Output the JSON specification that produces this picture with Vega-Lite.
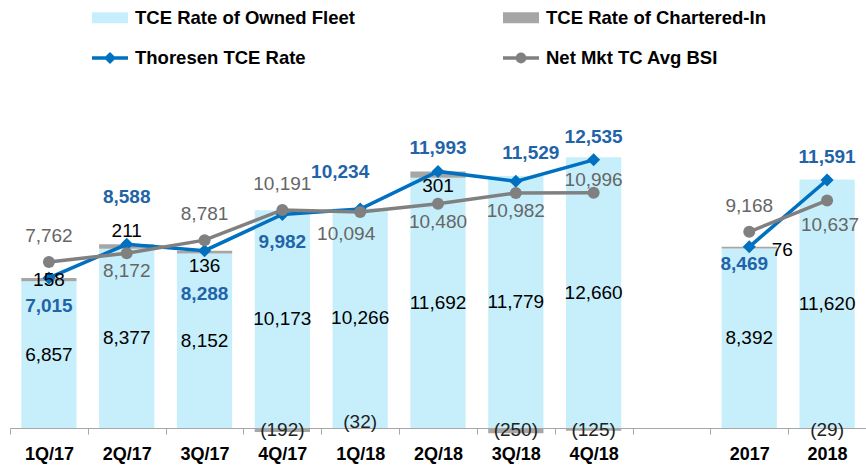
{
  "$schema": "https://vega.github.io/schema/vega-lite/v6.json",
  "width": 856,
  "height": 353,
  "autosize": {"type": "none"},
  "padding": {"left": 10, "top": 75, "right": 0, "bottom": 37},
  "background": "white",
  "config": {"view": {"stroke": null}, "font": "Liberation Sans"},
  "data": {
    "values": [
      {"q": "1Q/17", "grp": "quarterly", "TCE Rate of Owned Fleet": 6857, "TCE Rate of Chartered-In": 158, "Thoresen TCE Rate": 7015, "Net Mkt TC Avg BSI": 7762},
      {"q": "2Q/17", "grp": "quarterly", "TCE Rate of Owned Fleet": 8377, "TCE Rate of Chartered-In": 211, "Thoresen TCE Rate": 8588, "Net Mkt TC Avg BSI": 8172},
      {"q": "3Q/17", "grp": "quarterly", "TCE Rate of Owned Fleet": 8152, "TCE Rate of Chartered-In": 136, "Thoresen TCE Rate": 8288, "Net Mkt TC Avg BSI": 8781},
      {"q": "4Q/17", "grp": "quarterly", "TCE Rate of Owned Fleet": 10173, "TCE Rate of Chartered-In": -192, "Thoresen TCE Rate": 9982, "Net Mkt TC Avg BSI": 10191},
      {"q": "1Q/18", "grp": "quarterly", "TCE Rate of Owned Fleet": 10266, "TCE Rate of Chartered-In": -32, "Thoresen TCE Rate": 10234, "Net Mkt TC Avg BSI": 10094},
      {"q": "2Q/18", "grp": "quarterly", "TCE Rate of Owned Fleet": 11692, "TCE Rate of Chartered-In": 301, "Thoresen TCE Rate": 11993, "Net Mkt TC Avg BSI": 10480},
      {"q": "3Q/18", "grp": "quarterly", "TCE Rate of Owned Fleet": 11779, "TCE Rate of Chartered-In": -250, "Thoresen TCE Rate": 11529, "Net Mkt TC Avg BSI": 10982},
      {"q": "4Q/18", "grp": "quarterly", "TCE Rate of Owned Fleet": 12660, "TCE Rate of Chartered-In": -125, "Thoresen TCE Rate": 12535, "Net Mkt TC Avg BSI": 10996},
      {"q": "2017", "grp": "annual", "TCE Rate of Owned Fleet": 8392, "TCE Rate of Chartered-In": 76, "Thoresen TCE Rate": 8469, "Net Mkt TC Avg BSI": 9168},
      {"q": "2018", "grp": "annual", "TCE Rate of Owned Fleet": 11620, "TCE Rate of Chartered-In": -29, "Thoresen TCE Rate": 11591, "Net Mkt TC Avg BSI": 10637}
    ]
  },
  "encoding": {
    "x": {
      "field": "q",
      "type": "nominal",
      "scale": {"domain": ["1Q/17", "2Q/17", "3Q/17", "4Q/17", "1Q/18", "2Q/18", "3Q/18", "4Q/18", " ", "2017", "2018"], "paddingInner": 0, "paddingOuter": 0},
      "axis": {
        "title": null,
        "labelAngle": 0,
        "tickBand": "extent",
        "grid": false,
        "domainColor": "#a6a6a6",
        "domainWidth": 1,
        "tickColor": "#a6a6a6",
        "tickSize": 6,
        "labelFont": "Liberation Sans",
        "labelFontWeight": "bold",
        "labelFontSize": 18,
        "labelColor": "#000000",
        "labelPadding": 11
      }
    }
  },
  "layer": [
    {
      "transform": [{"fold": ["TCE Rate of Owned Fleet", "TCE Rate of Chartered-In", "Thoresen TCE Rate", "Net Mkt TC Avg BSI"], "as": ["series", "val"]}],
      "mark": {"type": "point", "filled": true, "opacity": 0},
      "encoding": {
        "y": {"field": "val", "type": "quantitative", "scale": {"domain": [0, 16500]}, "axis": null},
        "color": {
          "field": "series", "type": "nominal",
          "scale": {"domain": ["TCE Rate of Owned Fleet", "Thoresen TCE Rate", "TCE Rate of Chartered-In", "Net Mkt TC Avg BSI"], "range": ["#c7effb", "#0070c0", "#a6a6a6", "#808080"]},
          "legend": {
            "title": null, "orient": "none", "legendX": 82, "legendY": -75.5, "columns": 2, "columnPadding": 148, "rowPadding": 12.5, "padding": 0,
            "symbolSize": 1296, "symbolOpacity": 1, "symbolStrokeWidth": 0, "labelOffset": 7,
            "labelFont": "Liberation Sans", "labelFontWeight": "bold", "labelFontSize": 18.5, "labelColor": "#000000", "labelLimit": 400
          }
        },
        "shape": {
          "field": "series", "type": "nominal",
          "scale": {"domain": ["TCE Rate of Owned Fleet", "Thoresen TCE Rate", "TCE Rate of Chartered-In", "Net Mkt TC Avg BSI"],
            "range": ["M-1,-0.31H1V0.31H-1Z", "M-1,-0.1H-0.24L0,-0.34L0.24,-0.1H1V0.1H0.24L0,0.34L-0.24,0.1H-1Z", "M-1,-0.31H1V0.31H-1Z", "M-1,-0.1H-0.283A0.3,0.3 0 0 1 0.283,-0.1H1V0.1H0.283A0.3,0.3 0 0 1 -0.283,0.1H-1Z"]},
          "legend": {
            "title": null, "orient": "none", "legendX": 82, "legendY": -75.5, "columns": 2, "columnPadding": 148, "rowPadding": 12.5, "padding": 0,
            "symbolSize": 1296, "symbolOpacity": 1, "symbolStrokeWidth": 0, "labelOffset": 7,
            "labelFont": "Liberation Sans", "labelFontWeight": "bold", "labelFontSize": 18.5, "labelColor": "#000000", "labelLimit": 400
          }
        }
      }
    },
    {
      "transform": [{"fold": ["TCE Rate of Owned Fleet", "TCE Rate of Chartered-In"], "as": ["series", "val"]}],
      "mark": {"type": "bar", "width": {"band": 0.71}},
      "encoding": {
        "y": {"field": "val", "type": "quantitative", "scale": {"domain": [0, 16500]}, "axis": null},
        "color": {"field": "series", "type": "nominal", "scale": {"domain": ["TCE Rate of Owned Fleet", "Thoresen TCE Rate", "TCE Rate of Chartered-In", "Net Mkt TC Avg BSI"], "range": ["#c7effb", "#0070c0", "#a6a6a6", "#808080"]}, "legend": null},
        "order": {"field": "series", "sort": "descending"}
      }
    },
    {
      "mark": {"type": "line", "color": "#0070c0", "strokeWidth": 3.5, "point": {"filled": true, "shape": "diamond", "size": 170, "color": "#0070c0"}},
      "encoding": {
        "y": {"field": "Thoresen TCE Rate", "type": "quantitative", "scale": {"domain": [0, 16500]}, "axis": null},
        "detail": {"field": "grp"}
      }
    },
    {
      "mark": {"type": "line", "color": "#808080", "strokeWidth": 3.5, "point": {"filled": true, "shape": "circle", "size": 144, "color": "#808080"}},
      "encoding": {
        "y": {"field": "Net Mkt TC Avg BSI", "type": "quantitative", "scale": {"domain": [0, 16500]}, "axis": null},
        "detail": {"field": "grp"}
      }
    },
    {
      "mark": {"type": "text", "fontSize": 19, "color": "#000000", "baseline": "middle"},
      "encoding": {
        "y": {"field": "TCE Rate of Owned Fleet", "type": "quantitative", "scale": {"domain": [0, 33000]}, "axis": null},
        "text": {"field": "TCE Rate of Owned Fleet", "type": "quantitative", "format": ","}
      }
    },
    {
      "transform": [{"filter": {"field": "q", "oneOf": ["1Q/17"]}}],
      "mark": {"type": "text", "fontSize": 19, "color": "#000000", "baseline": "middle", "dy": 2},
      "encoding": {
        "y": {"field": "Thoresen TCE Rate", "type": "quantitative", "scale": {"domain": [0, 16500]}, "axis": null},
        "text": {"field": "TCE Rate of Chartered-In", "type": "quantitative", "format": "(,"}
      }
    },
    {
      "transform": [{"filter": {"field": "q", "oneOf": ["3Q/17", "2Q/18"]}}],
      "mark": {"type": "text", "fontSize": 19, "color": "#000000", "baseline": "middle", "dy": 15},
      "encoding": {
        "y": {"field": "Thoresen TCE Rate", "type": "quantitative", "scale": {"domain": [0, 16500]}, "axis": null},
        "text": {"field": "TCE Rate of Chartered-In", "type": "quantitative", "format": "(,"}
      }
    },
    {
      "transform": [{"filter": {"field": "q", "oneOf": ["2Q/17"]}}],
      "mark": {"type": "text", "fontSize": 19, "color": "#000000", "baseline": "middle", "dy": -13},
      "encoding": {
        "y": {"field": "Thoresen TCE Rate", "type": "quantitative", "scale": {"domain": [0, 16500]}, "axis": null},
        "text": {"field": "TCE Rate of Chartered-In", "type": "quantitative", "format": "(,"}
      }
    },
    {
      "transform": [{"filter": {"field": "q", "oneOf": ["2017"]}}],
      "mark": {"type": "text", "fontSize": 19, "color": "#000000", "baseline": "middle", "dy": 3, "dx": 33},
      "encoding": {
        "y": {"field": "Thoresen TCE Rate", "type": "quantitative", "scale": {"domain": [0, 16500]}, "axis": null},
        "text": {"field": "TCE Rate of Chartered-In", "type": "quantitative", "format": "(,"}
      }
    },
    {
      "transform": [{"filter": {"field": "q", "oneOf": ["4Q/17", "3Q/18", "4Q/18", "2018"]}}],
      "mark": {"type": "text", "fontSize": 19, "color": "#222222", "baseline": "middle", "dy": 2},
      "encoding": {
        "y": {"datum": 0, "type": "quantitative", "scale": {"domain": [0, 16500]}, "axis": null},
        "text": {"field": "TCE Rate of Chartered-In", "type": "quantitative", "format": "(,"}
      }
    },
    {
      "transform": [{"filter": {"field": "q", "oneOf": ["1Q/18"]}}],
      "mark": {"type": "text", "fontSize": 19, "color": "#222222", "baseline": "middle", "dy": -6},
      "encoding": {
        "y": {"datum": 0, "type": "quantitative", "scale": {"domain": [0, 16500]}, "axis": null},
        "text": {"field": "TCE Rate of Chartered-In", "type": "quantitative", "format": "(,"}
      }
    },
    {
      "transform": [{"filter": {"field": "q", "oneOf": ["2Q/17"]}}],
      "mark": {"type": "text", "fontSize": 19, "fontWeight": "bold", "color": "#1f64a8", "baseline": "middle", "dy": -47},
      "encoding": {
        "y": {"field": "Thoresen TCE Rate", "type": "quantitative", "scale": {"domain": [0, 16500]}, "axis": null},
        "text": {"field": "Thoresen TCE Rate", "type": "quantitative", "format": ","}
      }
    },
    {
      "transform": [{"filter": {"field": "q", "oneOf": ["1Q/18"]}}],
      "mark": {"type": "text", "fontSize": 19, "fontWeight": "bold", "color": "#1f64a8", "baseline": "middle", "dy": -37, "dx": -20},
      "encoding": {
        "y": {"field": "Thoresen TCE Rate", "type": "quantitative", "scale": {"domain": [0, 16500]}, "axis": null},
        "text": {"field": "Thoresen TCE Rate", "type": "quantitative", "format": ","}
      }
    },
    {
      "transform": [{"filter": {"field": "q", "oneOf": ["2Q/18", "4Q/18", "2018"]}}],
      "mark": {"type": "text", "fontSize": 19, "fontWeight": "bold", "color": "#1f64a8", "baseline": "middle", "dy": -23},
      "encoding": {
        "y": {"field": "Thoresen TCE Rate", "type": "quantitative", "scale": {"domain": [0, 16500]}, "axis": null},
        "text": {"field": "Thoresen TCE Rate", "type": "quantitative", "format": ","}
      }
    },
    {
      "transform": [{"filter": {"field": "q", "oneOf": ["3Q/18"]}}],
      "mark": {"type": "text", "fontSize": 19, "fontWeight": "bold", "color": "#1f64a8", "baseline": "middle", "dy": -28, "dx": 15},
      "encoding": {
        "y": {"field": "Thoresen TCE Rate", "type": "quantitative", "scale": {"domain": [0, 16500]}, "axis": null},
        "text": {"field": "Thoresen TCE Rate", "type": "quantitative", "format": ","}
      }
    },
    {
      "transform": [{"filter": {"field": "q", "oneOf": ["1Q/17", "4Q/17"]}}],
      "mark": {"type": "text", "fontSize": 19, "fontWeight": "bold", "color": "#1f64a8", "baseline": "middle", "dy": 28},
      "encoding": {
        "y": {"field": "Thoresen TCE Rate", "type": "quantitative", "scale": {"domain": [0, 16500]}, "axis": null},
        "text": {"field": "Thoresen TCE Rate", "type": "quantitative", "format": ","}
      }
    },
    {
      "transform": [{"filter": {"field": "q", "oneOf": ["3Q/17"]}}],
      "mark": {"type": "text", "fontSize": 19, "fontWeight": "bold", "color": "#1f64a8", "baseline": "middle", "dy": 43},
      "encoding": {
        "y": {"field": "Thoresen TCE Rate", "type": "quantitative", "scale": {"domain": [0, 16500]}, "axis": null},
        "text": {"field": "Thoresen TCE Rate", "type": "quantitative", "format": ","}
      }
    },
    {
      "transform": [{"filter": {"field": "q", "oneOf": ["2017"]}}],
      "mark": {"type": "text", "fontSize": 19, "fontWeight": "bold", "color": "#1f64a8", "baseline": "middle", "dy": 17, "dx": -5},
      "encoding": {
        "y": {"field": "Thoresen TCE Rate", "type": "quantitative", "scale": {"domain": [0, 16500]}, "axis": null},
        "text": {"field": "Thoresen TCE Rate", "type": "quantitative", "format": ","}
      }
    },
    {
      "transform": [{"filter": {"field": "q", "oneOf": ["1Q/17", "3Q/17", "4Q/17", "2017"]}}],
      "mark": {"type": "text", "fontSize": 19, "color": "#666666", "baseline": "middle", "dy": -26},
      "encoding": {
        "y": {"field": "Net Mkt TC Avg BSI", "type": "quantitative", "scale": {"domain": [0, 16500]}, "axis": null},
        "text": {"field": "Net Mkt TC Avg BSI", "type": "quantitative", "format": ","}
      }
    },
    {
      "transform": [{"filter": {"field": "q", "oneOf": ["2Q/17", "2Q/18", "3Q/18"]}}],
      "mark": {"type": "text", "fontSize": 19, "color": "#666666", "baseline": "middle", "dy": 18},
      "encoding": {
        "y": {"field": "Net Mkt TC Avg BSI", "type": "quantitative", "scale": {"domain": [0, 16500]}, "axis": null},
        "text": {"field": "Net Mkt TC Avg BSI", "type": "quantitative", "format": ","}
      }
    },
    {
      "transform": [{"filter": {"field": "q", "oneOf": ["1Q/18"]}}],
      "mark": {"type": "text", "fontSize": 19, "color": "#666666", "baseline": "middle", "dy": 22, "dx": -14},
      "encoding": {
        "y": {"field": "Net Mkt TC Avg BSI", "type": "quantitative", "scale": {"domain": [0, 16500]}, "axis": null},
        "text": {"field": "Net Mkt TC Avg BSI", "type": "quantitative", "format": ","}
      }
    },
    {
      "transform": [{"filter": {"field": "q", "oneOf": ["2018"]}}],
      "mark": {"type": "text", "fontSize": 19, "color": "#666666", "baseline": "middle", "dy": 25, "dx": 3},
      "encoding": {
        "y": {"field": "Net Mkt TC Avg BSI", "type": "quantitative", "scale": {"domain": [0, 16500]}, "axis": null},
        "text": {"field": "Net Mkt TC Avg BSI", "type": "quantitative", "format": ","}
      }
    },
    {
      "transform": [{"filter": {"field": "q", "oneOf": ["4Q/18"]}}],
      "mark": {"type": "text", "fontSize": 19, "color": "#666666", "baseline": "middle", "dy": -13},
      "encoding": {
        "y": {"field": "Net Mkt TC Avg BSI", "type": "quantitative", "scale": {"domain": [0, 16500]}, "axis": null},
        "text": {"field": "Net Mkt TC Avg BSI", "type": "quantitative", "format": ","}
      }
    }
  ],
  "resolve": {"scale": {"y": "independent"}}
}
